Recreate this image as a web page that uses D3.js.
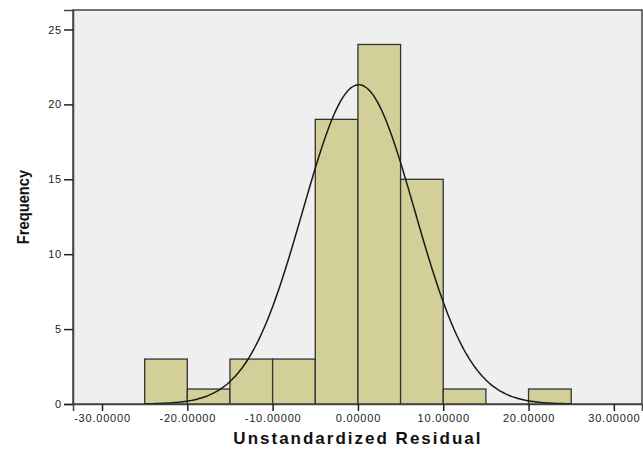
<!DOCTYPE html>
<html>
<head>
<meta charset="utf-8">
<script src="https://cdn.jsdelivr.net/npm/d3@7"></script>
<style>
  body { margin: 0; background: #fff; }
  text { font-family: "Liberation Sans", Arial, sans-serif; }
</style>
</head>
<body>
<div id="chart"></div>
<script>
// histogram bins (lower edge, upper edge) and counts
const binStart = [-25, -20, -15, -10, -5, 0, 5, 10, 15, 20];
const binEnd = [-20, -15, -10, -5, 0, 5, 10, 15, 20, 25];
const counts = [3, 1, 3, 3, 19, 24, 15, 1, 0, 1];
const xTicks = [-30, -20, -10, 0, 10, 20, 30];
const yTicks = [0, 5, 10, 15, 20, 25];
// normal curve parameters
const mean = 0.1;
const stdDev = 6.55;
const N = 70;

const width = 643;
const height = 449;
const margin = { top: 10, right: 1, bottom: 45, left: 73 };

const svg = d3.select("#chart").append("svg")
  .attr("width", width)
  .attr("height", height);

const x = d3.scaleLinear().domain([-33.4, 33.3]).range([margin.left, width - margin.right]);
const y = d3.scaleLinear().domain([0, 26.3]).range([height - margin.bottom, margin.top]);

// plot background
svg.append("rect")
  .attr("x", margin.left)
  .attr("y", margin.top)
  .attr("width", width - margin.right - margin.left)
  .attr("height", height - margin.bottom - margin.top)
  .attr("fill", "#efefef")
  .attr("stroke", "#444")
  .attr("stroke-width", 1.5);

// bars
const bars = binStart.map((s, i) => ({ s: s, e: binEnd[i], c: counts[i] })).filter(d => d.c > 0);
svg.append("g").selectAll("rect")
  .data(bars)
  .enter()
  .append("rect")
  .attr("x", d => x(d.s))
  .attr("y", d => y(d.c))
  .attr("width", d => x(d.e) - x(d.s))
  .attr("height", d => y(0) - y(d.c))
  .attr("fill", "#d3cf98")
  .attr("stroke", "#333")
  .attr("stroke-width", 1.3);

// normal curve
const curveX = d3.range(-25, 25.01, 0.25);
const binWidth = 5;
const line = d3.line()
  .x(d => x(d))
  .y(d => y(N * binWidth * Math.exp(-0.5 * Math.pow((d - mean) / stdDev, 2)) / (stdDev * Math.sqrt(2 * Math.PI))))
  .curve(d3.curveBasis);
svg.append("path")
  .datum(curveX)
  .attr("d", line)
  .attr("fill", "none")
  .attr("stroke", "#1a1a1a")
  .attr("stroke-width", 1.5);

// axes
const fmt = d3.format(".5f");
const xAxis = svg.append("g")
  .attr("transform", `translate(0,${height - margin.bottom})`)
  .call(d3.axisBottom(x).tickValues(xTicks).tickSize(7).tickPadding(3)
    .tickFormat(d => fmt(d).replace("−", "-")));
const yAxis = svg.append("g")
  .attr("transform", `translate(${margin.left},0)`)
  .call(d3.axisLeft(y).tickValues(yTicks).tickSize(9).tickPadding(2));
[xAxis, yAxis].forEach(a => {
  a.select(".domain").attr("stroke", "#444").attr("stroke-width", 1.5);
  a.selectAll(".tick line").attr("stroke", "#222").attr("stroke-width", 1.5);
  a.selectAll(".tick text").attr("fill", "#222").style("font-size", "11px")
    .style("letter-spacing", "0.8px")
    .style("font-family", "'Liberation Sans', Arial, sans-serif");
});

// axis titles
svg.append("text")
  .attr("x", x(0))
  .attr("y", 444)
  .attr("text-anchor", "middle")
  .style("font-size", "17px")
  .style("font-weight", "bold")
  .style("letter-spacing", "2px")
  .attr("fill", "#111")
  .text("Unstandardized Residual");

svg.append("text")
  .attr("transform", "translate(29,207) rotate(-90) scale(0.92,1)")
  .attr("text-anchor", "middle")
  .style("font-size", "16px")
  .style("font-weight", "bold")
  .attr("fill", "#111")
  .text("Frequency");
</script>
</body>
</html>
